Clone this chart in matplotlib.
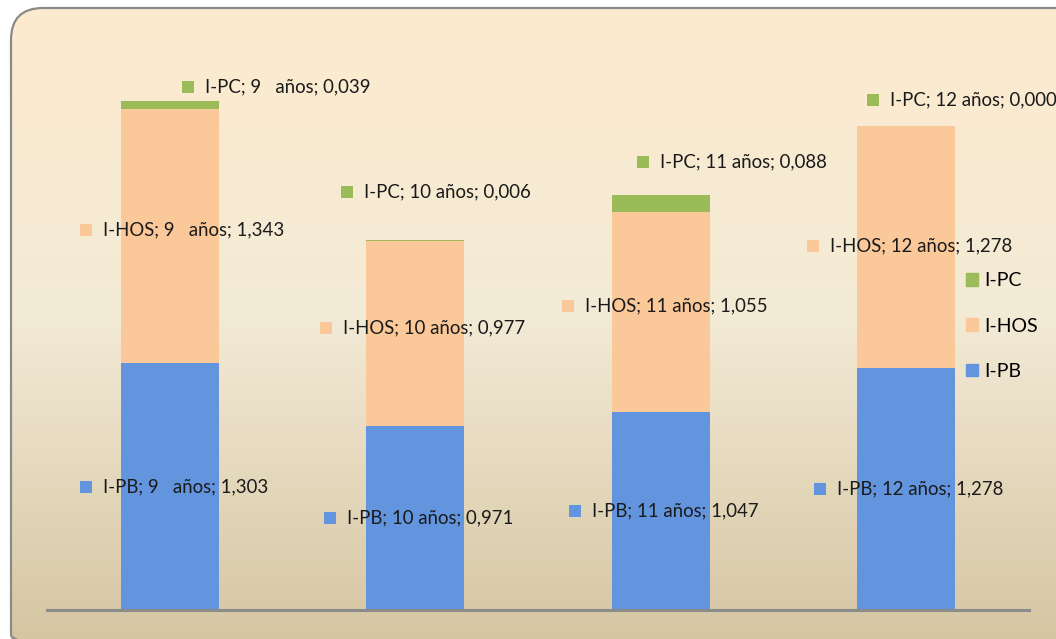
import numpy as np
import matplotlib
matplotlib.use("Agg")
import matplotlib.pyplot as plt
from matplotlib.patches import FancyBboxPatch, Patch

# ---- data ----
categories = ["9   años", "10 años", "11 años", "12 años"]
series_names = ["I-PB", "I-HOS", "I-PC"]
i_pb = [1.303, 0.971, 1.047, 1.278]
i_hos = [1.343, 0.977, 1.055, 1.278]
i_pc = [0.039, 0.006, 0.088, 0.000]

colors = {"I-PB": "#6395DE", "I-HOS": "#FBC899", "I-PC": "#9BBB59"}

# label placement (style): offset from category index, y in data units
lbl_dx = {
    "I-PB": [-0.341, -0.347, -0.349, -0.351],
    "I-HOS": [-0.341, -0.364, -0.378, -0.380],
    "I-PC": [0.074, -0.278, -0.072, -0.135],
}
lbl_y = {
    "I-PB": [0.649, 0.486, 0.522, 0.638],
    "I-HOS": [2.005, 1.488, 1.604, 1.921],
    "I-PC": [2.760, 2.206, 2.364, 2.691],
}

W, H = 1056, 639
fig = plt.figure(figsize=(W / 100, H / 100), dpi=100)
fig.patch.set_facecolor("white")

# background gradient with rounded border
bg = fig.add_axes([0, 0, 1, 1])
bg.set_xlim(0, W)
bg.set_ylim(H, 0)
bg.axis("off")
ys = np.linspace(0, 1, H)
top = np.array([253, 235, 206]) / 255
mid = np.array([243, 234, 214]) / 255
bot = np.array([213, 198, 162]) / 255
grad = np.empty((H, 1, 3))
for k, t in enumerate(ys):
    if t < 0.5:
        c = top + (mid - top) * (t / 0.5)
    else:
        c = mid + (bot - mid) * ((t - 0.5) / 0.5)
    grad[k, 0] = c
im = bg.imshow(grad, extent=(0, W, H, 0), aspect="auto", zorder=0)
box = FancyBboxPatch((11, 8), W + 20, H + 20, boxstyle="round,pad=0,rounding_size=32",
                     facecolor="none", edgecolor="#8A8A8A", linewidth=1.6, zorder=2)
bg.add_patch(box)
im.set_clip_path(box)

# main axes
x0, x1 = 47, 1029
ybase = 610
ppu = 189.5
ytop_val = 3.0
ax = fig.add_axes([x0 / W, (H - ybase) / H, (x1 - x0) / W, ytop_val * ppu / H])
ax.patch.set_alpha(0)
x = np.arange(len(categories))
bw = 0.4
b1 = np.array(i_pb)
b2 = b1 + np.array(i_hos)
ax.bar(x, i_pb, bw, color=colors["I-PB"], zorder=2)
ax.bar(x, i_hos, bw, bottom=b1, color=colors["I-HOS"], zorder=2)
ax.bar(x, i_pc, bw, bottom=b2, color=colors["I-PC"], zorder=2)
ax.set_xlim(-0.5, len(categories) - 0.5)
ax.set_ylim(0, ytop_val)
for s in ax.spines.values():
    s.set_visible(False)
ax.set_xticks([])
ax.set_yticks([])
ax.axhline(0, color="#8C8C8C", linewidth=2.2, zorder=3, clip_on=False)

font = "Lato"
vals = {"I-PB": i_pb, "I-HOS": i_hos, "I-PC": i_pc}
for name in series_names:
    for i, cat in enumerate(categories):
        xx = i + lbl_dx[name][i]
        yy = lbl_y[name][i]
        ax.plot([xx], [yy], marker="s", markersize=8.6, color=colors[name],
                linestyle="none", clip_on=False, zorder=4, markeredgewidth=0)
        txt = f"{name}; {cat}; {vals[name][i]:.3f}".replace(".", ",")
        ax.annotate(txt, (xx, yy), xytext=(12.2, 0), textcoords="offset points",
                    va="center", ha="left", fontsize=13.4, family=font,
                    color="#1a1a1a", annotation_clip=False, zorder=4)

handles = [Patch(color=colors[n]) for n in series_names[::-1]]
leg = fig.legend(handles, series_names[::-1], loc="center left",
                 bbox_to_anchor=(966 / W, 1 - 326 / H), frameon=False,
                 handlelength=0.6, handleheight=0.6,
                 handletextpad=0.36, labelspacing=1.45, borderpad=0,
                 borderaxespad=0, prop={"family": font, "size": 14})

fig.savefig("out.png", dpi=100, facecolor="white")
